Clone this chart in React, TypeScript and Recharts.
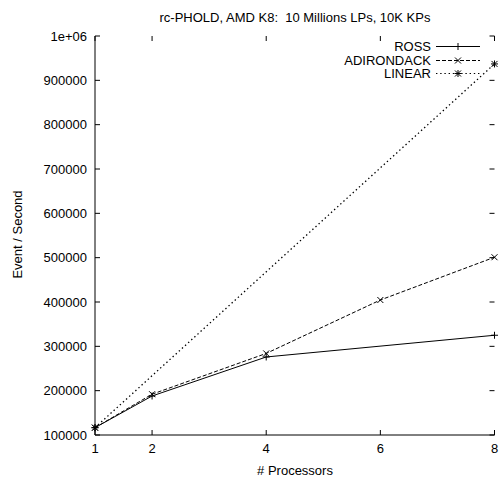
import React from 'react';
import { LineChart, Line, XAxis, YAxis, Legend } from 'recharts';

const processorTicks = [1, 2, 4, 6, 8];
const eventTicks = [100000, 200000, 300000, 400000, 500000, 600000, 700000, 800000, 900000, 1000000];

const rossProcessors = [1, 2, 4, 8];
const rossValues = [116500, 188000, 276000, 325000];
const adirondackProcessors = [1, 2, 4, 6, 8];
const adirondackValues = [116500, 192000, 284000, 404500, 501000];
const linearProcessors = [1, 8];
const linearValues = [116500, 937000];

const seriesNames = ['ROSS', 'ADIRONDACK', 'LINEAR'];

const FONT = '"Liberation Sans", Arial, Helvetica, sans-serif';

const toRows = (xs: number[], ys: number[]) => xs.map((x, i) => ({ x, v: ys[i] }));

type Kind = 'plus' | 'cross' | 'star';

const markerPath = (cx: number, cy: number, kind: Kind) => {
  const s = 3;
  let d = '';
  if (kind === 'plus' || kind === 'star') d += `M${cx - s - 0.5},${cy}H${cx + s + 0.5}M${cx},${cy - s - 0.5}V${cy + s + 0.5}`;
  if (kind === 'cross' || kind === 'star') d += `M${cx - s},${cy - s}L${cx + s},${cy + s}M${cx - s},${cy + s}L${cx + s},${cy - s}`;
  return d;
};

const makeDot = (kind: Kind) => (props: any) => {
  const { cx, cy, index } = props;
  if (cx == null || cy == null) return <g key={`d-${kind}-${index}`} />;
  return <path key={`d-${kind}-${index}`} d={markerPath(cx, cy, kind)} stroke="#000" strokeWidth={1} fill="none" />;
};

const DOTTED = '1.4 2.8';
const DASHED = '4 2';

const seriesStyles: { name: string; dash?: string; kind: Kind; width: number }[] = [
  { name: seriesNames[0], dash: undefined, kind: 'plus', width: 1 },
  { name: seriesNames[1], dash: DASHED, kind: 'cross', width: 1 },
  { name: seriesNames[2], dash: DOTTED, kind: 'star', width: 1.3 },
];

const LegendBox = () => (
  <div style={{ fontFamily: FONT, fontSize: 13, color: '#000' }}>
    {seriesStyles.map((s) => (
      <div key={s.name} style={{ display: 'flex', justifyContent: 'flex-end', alignItems: 'center', height: 13.5 }}>
        <span style={{ lineHeight: '13.5px', whiteSpace: 'nowrap' }}>{s.name}</span>
        <svg width={44} height={13} style={{ marginLeft: 5, display: 'block' }}>
          <line x1={0} y1={6.5} x2={44} y2={6.5} stroke="#000" strokeWidth={1} strokeDasharray={s.dash} />
          <path d={markerPath(22, 6.5, s.kind)} stroke="#000" strokeWidth={1} fill="none" />
        </svg>
      </div>
    ))}
  </div>
);

const tickStyle = { fill: '#000', fontSize: 13, fontFamily: FONT };
const blankTick = { fill: 'none', fontSize: 1 };

export default function App() {
  return (
    <div style={{ position: 'absolute', left: 0, top: 0, width: 502, height: 479, background: '#fff', fontFamily: FONT }}>
      <div style={{ position: 'absolute', left: 95, top: 10, width: 400, textAlign: 'center', fontSize: 13, lineHeight: '15px', color: '#000', whiteSpace: 'pre' }}>
        {'rc-PHOLD, AMD K8:  10 Millions LPs, 10K KPs'}
      </div>
      <div style={{ position: 'absolute', left: 95, top: 463, width: 400, textAlign: 'center', fontSize: 13, lineHeight: '15px', color: '#000' }}>
        # Processors
      </div>
      <div style={{ position: 'absolute', left: -83, top: 227, width: 200, height: 15, textAlign: 'center', fontSize: 13, lineHeight: '15px', color: '#000', transform: 'rotate(-90deg)', transformOrigin: 'center' }}>
        Event / Second
      </div>
      <LineChart width={502} height={479} margin={{ top: 0, right: 0, bottom: 0, left: 0 }} style={{ position: 'absolute', left: 0, top: 0 }}>
        <XAxis
          dataKey="x"
          type="number"
          domain={[1, 8]}
          ticks={processorTicks}
          interval={0}
          height={44}
          tickSize={-5}
          tickMargin={14}
          axisLine={{ stroke: '#000', strokeWidth: 1 }}
          tickLine={{ stroke: '#000', strokeWidth: 1 }}
          tick={tickStyle}
        />
        <XAxis
          xAxisId="top"
          orientation="top"
          dataKey="x"
          type="number"
          domain={[1, 8]}
          ticks={processorTicks}
          interval={0}
          height={36}
          tickSize={-5}
          axisLine={false}
          tickLine={{ stroke: '#000', strokeWidth: 1 }}
          tick={blankTick}
          tickFormatter={() => ''}
        />
        <YAxis
          type="number"
          domain={[100000, 1000000]}
          ticks={eventTicks}
          interval={0}
          width={95}
          tickSize={-5}
          tickMargin={13}
          axisLine={{ stroke: '#000', strokeWidth: 1 }}
          tickLine={{ stroke: '#000', strokeWidth: 1 }}
          tick={tickStyle}
          tickFormatter={(v: number) => (v === 1000000 ? '1e+06' : String(v))}
        />
        <YAxis
          yAxisId="right"
          orientation="right"
          type="number"
          domain={[100000, 1000000]}
          ticks={eventTicks}
          interval={0}
          width={7.5}
          tickSize={-5}
          axisLine={false}
          tickLine={{ stroke: '#000', strokeWidth: 1 }}
          tick={blankTick}
          tickFormatter={() => ''}
        />
        <Legend
          layout="vertical"
          align="center"
          verticalAlign="middle"
          wrapperStyle={{ position: 'absolute', left: 280, top: 40, width: 200, height: 42 }}
          content={() => <LegendBox />}
        />
        <Line
          xAxisId="top"
          yAxisId="right"
          data={toRows(linearProcessors, linearValues)}
          dataKey="v"
          name={seriesNames[2]}
          stroke="#000"
          strokeWidth={1.3}
          strokeDasharray={DOTTED}
          dot={makeDot('star')}
          activeDot={false}
          isAnimationActive={false}
        />
        <Line
          data={toRows(adirondackProcessors, adirondackValues)}
          dataKey="v"
          name={seriesNames[1]}
          stroke="#000"
          strokeWidth={1}
          strokeDasharray={DASHED}
          dot={makeDot('cross')}
          activeDot={false}
          isAnimationActive={false}
        />
        <Line
          data={toRows(rossProcessors, rossValues)}
          dataKey="v"
          name={seriesNames[0]}
          stroke="#000"
          strokeWidth={1}
          dot={makeDot('plus')}
          activeDot={false}
          isAnimationActive={false}
        />
      </LineChart>
    </div>
  );
}
